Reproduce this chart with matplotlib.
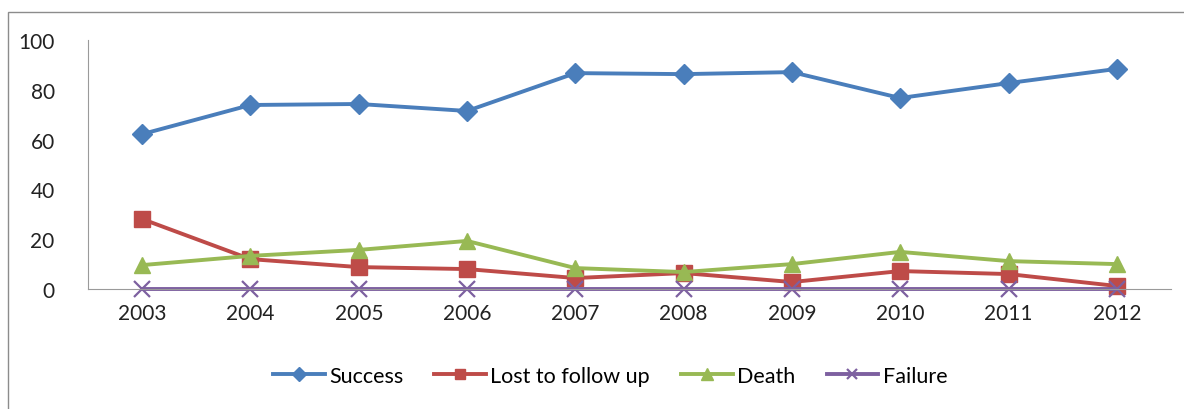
import matplotlib
matplotlib.use("Agg")
import matplotlib.pyplot as plt
from matplotlib.patches import Rectangle

years = ["2003", "2004", "2005", "2006", "2007", "2008", "2009", "2010", "2011", "2012"]
success = [62.2, 73.9, 74.3, 71.5, 86.7, 86.3, 87.1, 76.7, 82.7, 88.4]
lost = [28.1, 12.0, 8.8, 8.0, 4.4, 6.4, 2.8, 7.2, 6.0, 1.2]
death = [9.6, 13.3, 15.7, 19.3, 8.4, 6.8, 10.0, 14.9, 11.2, 10.0]
failure = [0, 0, 0, 0, 0, 0, 0, 0, 0, 0]
series_names = ["Success", "Lost to follow up", "Death", "Failure"]

plt.rcParams['font.family'] = ['Lato', 'DejaVu Sans']

W, H = 1184, 410
fig = plt.figure(figsize=(W / 100, H / 100), dpi=100)
fig.patches.append(Rectangle((8 / W, -0.1), 1.2, (H - 13) / H + 0.1,
                             transform=fig.transFigure, fill=False,
                             edgecolor="#8c8c8c", linewidth=1.0))

ax = fig.add_axes([88 / W, (H - 290) / H, (1171 - 88) / W, (290 - 41) / H])
x = list(range(len(years)))

styles = [
    dict(color="#4A7EBB", marker="D", markersize=10),
    dict(color="#BE4B48", marker="s", markersize=11),
    dict(color="#98B954", marker="^", markersize=12),
    dict(color="#7D60A0", marker="x", markersize=11, markeredgewidth=1.6),
]
for vals, name, st in zip([success, lost, death, failure], series_names, styles):
    ax.plot(x, vals, linewidth=2.8, label=name, clip_on=False, **st)

ax.set_xlim(-0.5, len(years) - 0.5)
ax.set_ylim(0, 100)
ax.set_yticks([0, 20, 40, 60, 80, 100])
ax.set_xticks(x)
ax.set_xticklabels(years)
ax.tick_params(axis="both", length=0, labelsize=15, colors="#222222")
ax.tick_params(axis="y", pad=24)
ax.tick_params(axis="x", pad=10)
for s in ["top", "right"]:
    ax.spines[s].set_visible(False)
for s in ["left", "bottom"]:
    ax.spines[s].set_color("#9a9a9a")
    ax.spines[s].set_linewidth(0.8)

ax.legend(loc="center", bbox_to_anchor=(610 / W, (H - 377) / H),
          bbox_transform=fig.transFigure, ncol=4, frameon=False,
          fontsize=15.5, handlelength=2.4, columnspacing=1.45, handletextpad=0.2,
          markerscale=0.7)

fig.savefig("out.png", dpi=100)
